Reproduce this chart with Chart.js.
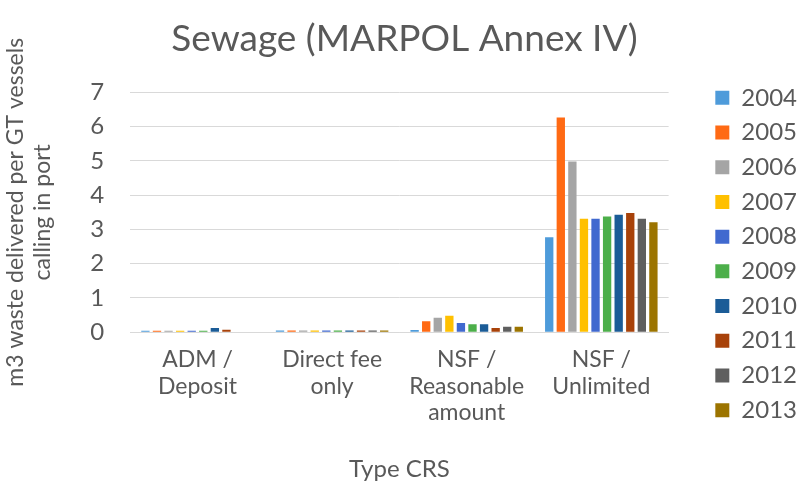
<!DOCTYPE html>
<html>
<head>
<meta charset="utf-8">
<script src="https://cdn.jsdelivr.net/npm/chart.js@4.4.1/dist/chart.umd.min.js"></script>
<style>
  html, body { margin: 0; padding: 0; background: #fff; }
  #wrap { width: 801px; height: 492px; }
</style>
</head>
<body>
<div id="wrap"><canvas id="sewageChart"></canvas></div>
<script>
// Sewage (MARPOL Annex IV)
const categorias = [
    ['ADM /', 'Deposit'],
    ['Direct fee', 'only'],
    ['NSF /', 'Reasonable', 'amount'],
    ['NSF /', 'Unlimited']
];
const anos = ['2004', '2005', '2006', '2007', '2008', '2009', '2010', '2011', '2012', '2013'];

const v2004 = [0.04, 0.05, 0.06, 2.77];
const v2005 = [0.04, 0.05, 0.32, 6.27];
const v2006 = [0.04, 0.05, 0.42, 4.98];
const v2007 = [0.04, 0.05, 0.48, 3.31];
const v2008 = [0.04, 0.05, 0.27, 3.31];
const v2009 = [0.04, 0.05, 0.23, 3.38];
const v2010 = [0.12, 0.05, 0.23, 3.43];
const v2011 = [0.07, 0.05, 0.12, 3.48];
const v2012 = [null, 0.05, 0.16, 3.31];
const v2013 = [null, 0.05, 0.16, 3.21];

const yTicks = [0, 1, 2, 3, 4, 5, 6, 7];

const valores = [v2004, v2005, v2006, v2007, v2008, v2009, v2010, v2011, v2012, v2013];
const cores = ['#4E9BDA', '#FF6A14', '#A5A5A5', '#FFC000', '#4069CF',
               '#4CAF4A', '#1B5C97', '#A8420A', '#5F5F5F', '#9C7400'];

const textoCor = '#595959';
const fonte = 'Lato, "Open Sans", sans-serif';

const ctx = document.getElementById('sewageChart').getContext('2d');
const sewageChart = new Chart(ctx, {
    type: 'bar',
    data: {
        labels: categorias,
        datasets: anos.map((ano, i) => ({
            label: ano,
            data: valores[i],
            backgroundColor: cores[i],
            borderWidth: 0,
            barPercentage: 0.72,
            categoryPercentage: 0.86
        }))
    },
    options: {
        responsive: true,
        maintainAspectRatio: false,
        animation: false,
        layout: { padding: { left: 2, right: -6, top: 0, bottom: 8 } },
        plugins: {
            title: {
                display: true,
                text: 'Sewage (MARPOL Annex IV)',
                color: textoCor,
                font: { family: fonte, size: 37, weight: 'normal' },
                padding: { top: 17, bottom: 31 }
            },
            legend: {
                position: 'right',
                // título vazio só para descer um pouco os itens
                title: {
                    display: true,
                    text: ' ',
                    font: { size: 10 },
                    padding: 6
                },
                labels: {
                    color: textoCor,
                    font: { family: fonte, size: 24 },
                    boxWidth: 14,
                    boxHeight: 14,
                    padding: 10.7
                }
            },
            tooltip: { enabled: false }
        },
        scales: {
            x: {
                grid: { display: false },
                border: { display: true, color: '#D9D9D9', width: 1 },
                ticks: {
                    color: textoCor,
                    font: { family: fonte, size: 23, lineHeight: 1.16 },
                    maxRotation: 0,
                    autoSkip: false,
                    padding: 6
                },
                title: {
                    display: true,
                    text: 'Type CRS',
                    color: textoCor,
                    font: { family: fonte, size: 24 },
                    padding: { top: 23, bottom: 0 }
                }
            },
            y: {
                min: 0,
                max: 7,
                afterBuildTicks: (axis) => { axis.ticks = yTicks.map(v => ({ value: v })); },
                grid: { color: '#D9D9D9', drawTicks: false },
                border: { display: false },
                ticks: {
                    color: textoCor,
                    font: { family: fonte, size: 24 },
                    padding: 26
                },
                title: {
                    display: true,
                    text: ['m3 waste delivered per GT vessels', 'calling in port'],
                    color: textoCor,
                    font: { family: fonte, size: 23, lineHeight: 1.18 },
                    padding: { top: 0, bottom: 8 }
                }
            },
            // eixo vazio só para afastar a legenda do gráfico
            espaco: {
                position: 'right',
                grid: { display: false },
                border: { display: false },
                ticks: { display: false },
                afterFit: (scale) => { scale.width = 36; }
            }
        }
    }
});
</script>
</body>
</html>
